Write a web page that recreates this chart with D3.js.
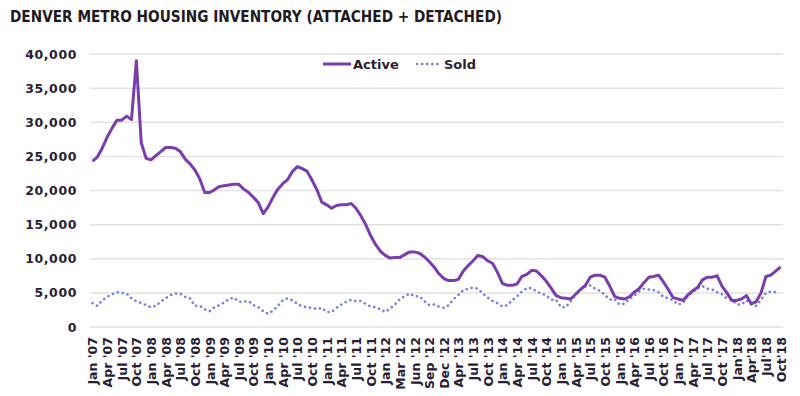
<!DOCTYPE html>
<html>
<head>
<meta charset="utf-8">
<script src="https://cdn.jsdelivr.net/npm/d3@7"></script>
<style>
  html, body { margin: 0; padding: 0; background: #fff; }
  svg { display: block; }
  text { font-family: "DejaVu Sans", sans-serif; font-weight: bold; }
</style>
</head>
<body>
<svg id="chart" width="800" height="396"></svg>
<script>
const title = "DENVER METRO HOUSING INVENTORY (ATTACHED + DETACHED)";
const seriesNames = ["Active", "Sold"];
const yTicks = [0, 5000, 10000, 15000, 20000, 25000, 30000, 35000, 40000];
const tickLabels = [
  "Jan '07","Apr '07","Jul '07","Oct '07","Jan '08","Apr '08","Jul '08","Oct '08",
  "Jan '09","Apr '09","Jul '09","Oct '09","Jan '10","Apr '10","Jul '10","Oct '10",
  "Jan '11","Apr '11","Jul '11","Oct '11","Jan '12","Mar '12","Jun '12","Sep '12",
  "Dec '12","Apr '13","Jul '13","Oct '13","Jan '14","Apr '14","Jul '14","Oct '14",
  "Jan '15","Apr '15","Jul '15","Oct '15","Jan '16","Apr '16","Jul '16","Oct '16",
  "Jan '17","Apr '17","Jul '17","Oct '17","Jan'18","Apr'18","Jul'18","Oct'18"
];
const active = [
  24300,24900,26200,27800,29100,30300,30300,30900,30400,39000,
  27000,24700,24500,25100,25700,26300,26300,26200,25700,24600,
  23900,23000,21700,19700,19700,20100,20600,20700,20800,20900,
  20900,20200,19700,19000,18200,16600,17600,19000,20200,21000,
  21600,22800,23500,23200,22800,21500,20100,18300,17900,17400,
  17800,17900,17900,18100,17400,16300,15000,13400,12100,11100,
  10500,10100,10200,10200,10600,11000,11000,10800,10300,9600,
  8800,7800,7100,6800,6800,7000,8200,9000,9700,10500,
  10300,9700,9300,8000,6400,6100,6100,6300,7400,7700,
  8300,8200,7500,6700,5700,4600,4300,4200,4100,4800,
  5500,6100,7300,7600,7600,7300,6000,4500,4200,4100,
  4400,5100,5600,6500,7300,7400,7600,6600,5500,4300,
  4100,3900,4700,5300,5800,6900,7300,7300,7500,6000,
  5000,3900,3900,4100,4600,3400,3700,5000,7400,7600,
  8200,8800
];
const sold = [
  3500,3100,3900,4400,4800,5100,5000,4900,4200,3800,
  3500,3200,2900,3100,3700,4200,4700,4900,4900,4400,
  4200,3100,3100,2600,2300,2900,3200,3600,4100,4300,
  3700,3700,3800,3200,2900,2300,1950,2400,3100,3900,
  4200,3900,3400,3000,2900,2800,2600,2800,2200,2200,
  2800,3300,3700,4000,3800,3800,3400,3000,2900,2600,
  2200,2700,3300,4100,4500,4900,4500,4500,3800,3200,
  3300,3000,2800,3200,4100,4700,5400,5600,5800,5600,
  4900,4300,3800,3500,3000,3200,3900,4500,5200,5700,
  5700,5200,4900,4600,4000,4000,2900,2900,3800,4700,
  5400,5900,6100,5600,5300,4700,4000,4100,3300,3400,
  4100,4600,5200,5600,5500,5400,5100,4400,4200,3900,
  3300,3500,4500,5100,5700,6000,5600,5500,5100,4800,
  4200,4000,3300,3300,3900,3300,3100,4000,5000,5200,
  5100
];

const svg = d3.select("#chart");
const m = { left: 90, right: 783, top: 54, bottom: 327 };
const idx = d3.range(active.length);
const x = d3.scalePoint().domain(idx).range([m.left, m.right]).padding(0.5);
const y = d3.scaleLinear().domain([0, 40000]).range([m.bottom, m.top]);

// title
svg.append("text").attr("x", 10).attr("y", 22)
  .attr("font-size", 15.5).attr("fill", "#1e1a1f")
  .attr("textLength", 492).attr("lengthAdjust", "spacingAndGlyphs")
  .text(title);

// gridlines
svg.append("g").selectAll("line").data(yTicks).join("line")
  .attr("x1", m.left).attr("x2", m.right)
  .attr("y1", d => y(d)).attr("y2", d => y(d))
  .attr("stroke", "#e2e2e2").attr("stroke-width", 1.5);

// y axis
const yAxis = svg.append("g").attr("transform", `translate(${m.left},0)`)
  .call(d3.axisLeft(y).tickValues(yTicks).tickSize(0).tickPadding(13)
    .tickFormat(d3.format(",")));
yAxis.select(".domain").remove();
yAxis.selectAll("text").attr("font-size", 12.5).attr("fill", "#2a1d36")
  .attr("letter-spacing", 0.6)
  .style("font-family", "DejaVu Sans").style("font-weight", "bold");

// x axis
const xAxis = svg.append("g").attr("transform", `translate(0,${m.bottom})`)
  .call(d3.axisBottom(x).tickValues(idx.filter(i => i % 3 === 0)).tickSize(0)
    .tickFormat(i => tickLabels[i / 3]));
xAxis.select(".domain").remove();
xAxis.selectAll("text")
  .attr("transform", "rotate(-90)")
  .attr("text-anchor", "end")
  .attr("x", -10).attr("y", 0).attr("dy", "0.36em")
  .attr("font-size", 12.5).attr("fill", "#2a1d36")
  .style("font-family", "DejaVu Sans").style("font-weight", "bold");

// lines
const line = d3.line().x((d, i) => x(i)).y(d => y(d));
svg.append("path").datum(sold).attr("d", line)
  .attr("fill", "none").attr("stroke", "#6f80e2").attr("stroke-width", 2.6)
  .attr("stroke-linecap", "round").attr("stroke-dasharray", "0.1 5");
svg.append("path").datum(active).attr("d", line)
  .attr("fill", "none").attr("stroke", "#7a3dab").attr("stroke-width", 3)
  .attr("stroke-linejoin", "round");

// legend
const lg = svg.append("g");
lg.append("line").attr("x1", 323).attr("x2", 351).attr("y1", 64).attr("y2", 64)
  .attr("stroke", "#7a3dab").attr("stroke-width", 3);
lg.append("text").attr("x", 353).attr("y", 64).attr("dy", "0.36em")
  .attr("font-size", 13).attr("fill", "#2a1d36").text(seriesNames[0]);
lg.append("line").attr("x1", 417).attr("x2", 441).attr("y1", 64).attr("y2", 64)
  .attr("stroke", "#6f80e2").attr("stroke-width", 2.6)
  .attr("stroke-linecap", "round").attr("stroke-dasharray", "0.1 5");
lg.append("text").attr("x", 444).attr("y", 64).attr("dy", "0.36em")
  .attr("font-size", 13).attr("fill", "#2a1d36").text(seriesNames[1]);
</script>
</body>
</html>
